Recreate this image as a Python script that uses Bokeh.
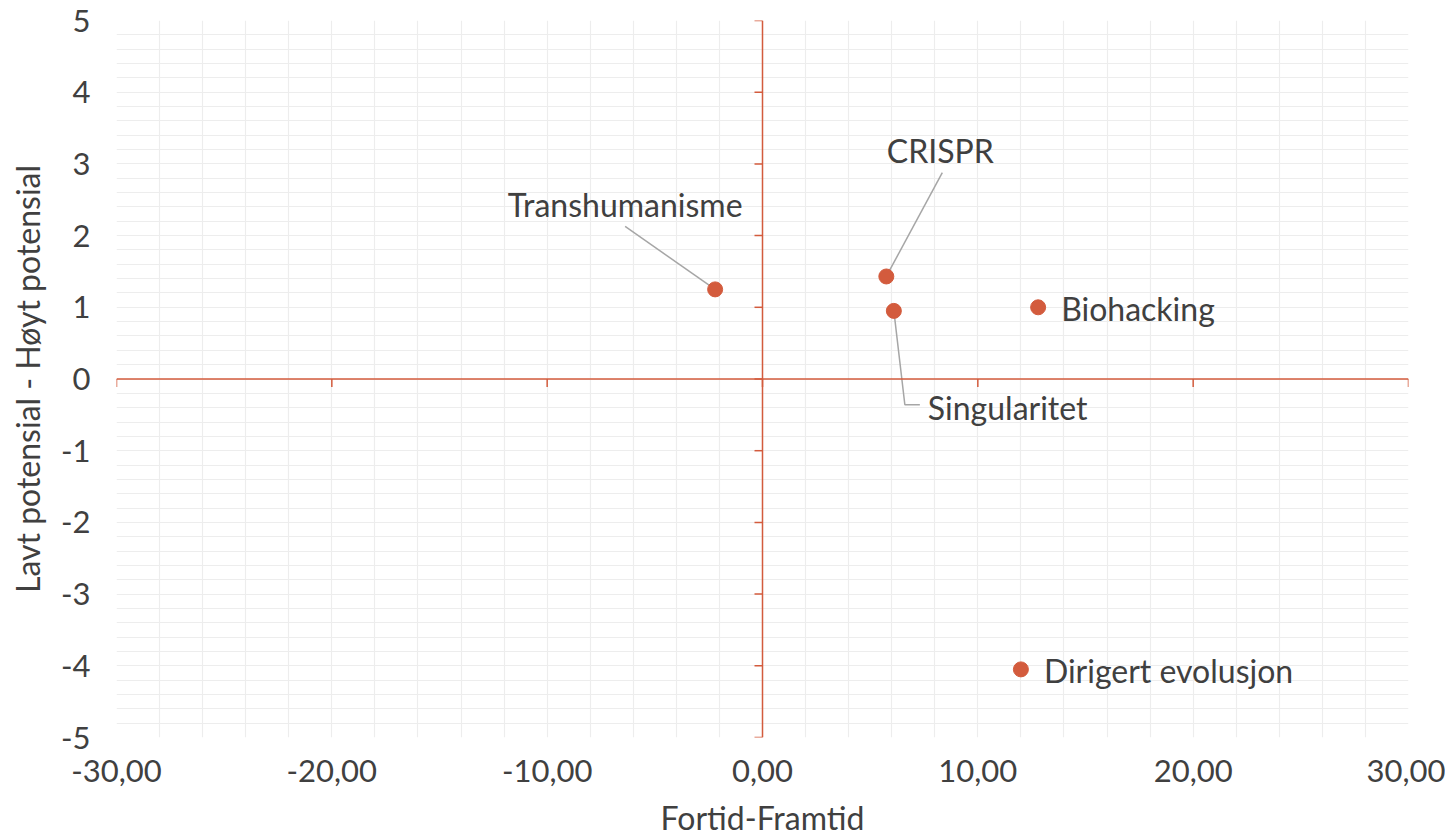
import math
from bokeh.plotting import figure
from bokeh.models import Range1d, FixedTicker, SingleIntervalTicker, Span, ColumnDataSource
from bokeh.embed import file_html
from bokeh.resources import INLINE
from bokeh.core.properties import value

# ---- data ----
names = ["Transhumanisme", "CRISPR", "Singularitet", "Biohacking", "Dirigert evolusjon"]
x_vals = [-2.2, 5.75, 6.1, 12.8, 12.0]
y_vals = [1.25, 1.43, 0.95, 1.0, -4.05]

x_ticks = [-30, -20, -10, 0, 10, 20, 30]
x_tick_labels = ["-30,00", "-20,00", "-10,00", "0,00", "10,00", "20,00", "30,00"]
y_ticks = [-5, -4, -3, -2, -1, 0, 1, 2, 3, 4, 5]
y_tick_labels = ["-5", "-4", "-3", "-2", "-1", "0", "1", "2", "3", "4", "5"]
x_title = "Fortid-Framtid"
y_title = "Lavt potensial - Høyt potensial"

# ---- layout / style ----
FW, FH = 1292, 718
BL, BT, BB = 116, 20, 101
BR = 37
W, H = BL + FW + BR, BT + FH + BB
XMIN, XMAX, YMIN, YMAX = -30, 30, -5, 5
ACC = "#D35B3D"
TXT = "#404040"
GRID = "#EDEDED"
FONT = "Lato"
FS = "32px"
FS_TICK = "31px"

# label placement as screen-pixel offsets from each point (dx right, dy down)
label_offsets = {
    "Transhumanisme": (-90, -85, "center"),
    "CRISPR": (54, -126, "center"),
    "Singularitet": (34, 97, "left"),
    "Biohacking": (23, 1, "left"),
    "Dirigert evolusjon": (23, 1, "left"),
}
leader_paths = {
    "Transhumanisme": [(0, 0), (-90, -63)],
    "CRISPR": [(0, 0), (56, -104)],
    "Singularitet": [(0, 0), (11, 94), (26, 94)],
}

def px2dx(dx):
    return dx * (XMAX - XMIN) / FW

def px2dy(dy):
    return -dy * (YMAX - YMIN) / FH

p = figure(width=W, height=H, output_backend="svg", toolbar_location=None,
           x_range=Range1d(XMIN, XMAX), y_range=Range1d(YMIN, YMAX),
           min_border_left=BL, min_border_right=BR, min_border_top=BT, min_border_bottom=BB)
p.outline_line_color = None
p.background_fill_color = "white"
p.border_fill_color = "white"

# grids
p.xgrid.ticker = SingleIntervalTicker(interval=2)
p.ygrid.ticker = SingleIntervalTicker(interval=0.2)
for g in (p.xgrid, p.ygrid):
    g.grid_line_color = GRID
    g.grid_line_width = 1.2

# axes (labels at plot edges)
p.xaxis.ticker = FixedTicker(ticks=x_ticks)
p.xaxis.major_label_overrides = dict(zip(x_ticks, x_tick_labels))
p.yaxis.ticker = FixedTicker(ticks=y_ticks)
p.yaxis.major_label_overrides = dict(zip(y_ticks, y_tick_labels))
for ax in (p.xaxis, p.yaxis):
    ax.axis_line_color = None
    ax.major_tick_line_color = None
    ax.minor_tick_line_color = None
    ax.major_tick_out = 0
    ax.major_tick_in = 0
    ax.major_label_text_font = FONT
    ax.major_label_text_font_size = FS_TICK
    ax.major_label_text_color = TXT
    ax.axis_label_text_font = FONT
    ax.axis_label_text_font_size = FS
    ax.axis_label_text_color = TXT
    ax.axis_label_text_font_style = "normal"
p.xaxis.axis_label = x_title
p.yaxis.axis_label = y_title
p.xaxis.major_label_standoff = 22
p.yaxis.major_label_standoff = 26
p.xaxis.axis_label_standoff = 13
p.yaxis.axis_label_standoff = 11

# crossing axis lines at zero
p.add_layout(Span(location=0, dimension="width", line_color=ACC, line_width=1.5))
p.add_layout(Span(location=0, dimension="height", line_color=ACC, line_width=1.5))
# tick marks on crossing axes
p.ray(x=[0] * len(y_ticks), y=y_ticks, length=8, length_units="screen", angle=math.pi,
      line_color=ACC, line_width=1.5)
p.ray(x=x_ticks, y=[0] * len(x_ticks), length=8, length_units="screen", angle=-math.pi / 2,
      line_color=ACC, line_width=1.5)

# leader lines
xs, ys = [], []
for n, x, y in zip(names, x_vals, y_vals):
    if n in leader_paths:
        xs.append([x + px2dx(dx) for dx, dy in leader_paths[n]])
        ys.append([y + px2dy(dy) for dx, dy in leader_paths[n]])
p.multi_line(xs=xs, ys=ys, line_color="#A6A6A6", line_width=1.5)

# points
src = ColumnDataSource(dict(x=x_vals, y=y_vals, name=names))
p.scatter("x", "y", source=src, size=15, fill_color=ACC, line_color=ACC)

# labels
for n, x, y in zip(names, x_vals, y_vals):
    dx, dy, al = label_offsets[n]
    p.text(x=[x], y=[y], text=[n], x_offset=dx, y_offset=dy, text_align=al,
           text_baseline="middle", text_font=value(FONT), text_font_size=FS, text_color=TXT)

open("out.html", "w").write(file_html(p, INLINE))
